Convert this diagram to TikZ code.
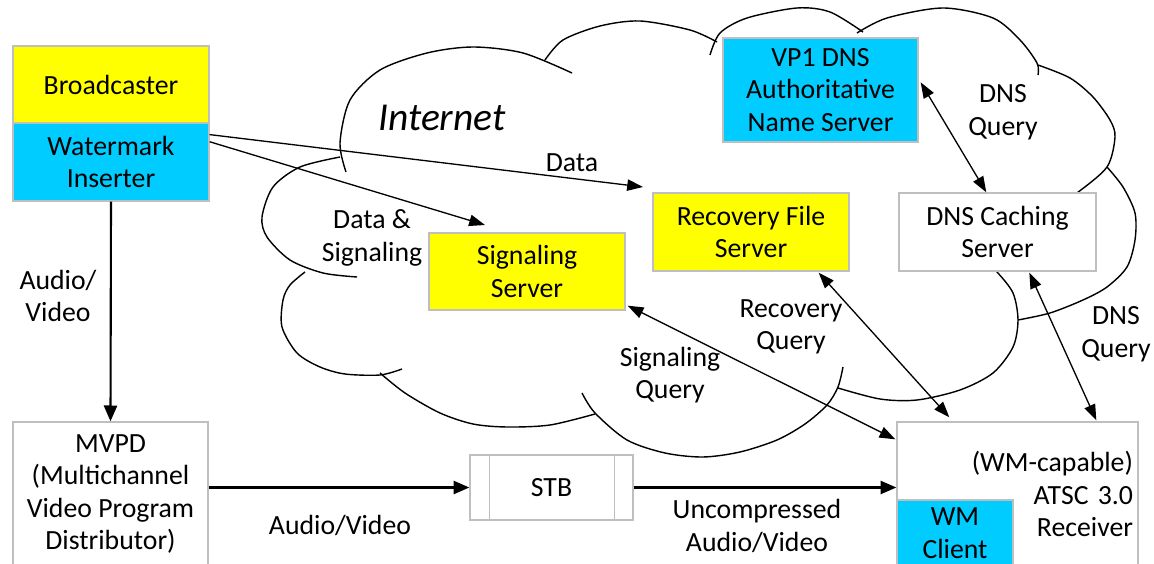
\documentclass[tikz,border=0pt]{standalone}
\usepackage{fontspec}
\setmainfont{Carlito}
\usetikzlibrary{arrows.meta,calc,shadows}
\definecolor{yel}{HTML}{FFFF00}
\definecolor{blu}{HTML}{00CCFF}
\definecolor{bord}{HTML}{BFBFBF}
\begin{document}
\begin{tikzpicture}[x=0.02cm,y=-0.02cm,
  font=\fontsize{15.8}{18.5}\selectfont,
  cloudline/.style={line width=0.8pt},
  box/.style={draw=bord, line width=0.8pt, inner sep=0pt, align=center, minimum width=3.92cm,
    drop shadow={shadow xshift=0.7pt, shadow yshift=-0.7pt, fill=black, opacity=0.12}},
  sarr/.style={line width=0.75pt, -{Triangle[length=9pt,width=6.5pt]}},
  darr/.style={line width=0.75pt, {Triangle[length=9pt,width=6.5pt]}-{Triangle[length=9pt,width=6.5pt]}},
  tarr/.style={line width=1.2pt, -{Triangle[length=9pt,width=7.5pt]}},
  lbl/.style={align=center, inner sep=0pt}]
\useasboundingbox (0,0) rectangle (1154,564);
\clip (0,0) rectangle (1154,564);
\fill[white] (0,0) rectangle (1154,564);

% cloud lobes
\draw[cloudline] plot[smooth] coordinates {(346,172) (340,143) (350,100) (380,70) (427,53) (473,47) (523,53) (572,73)};
\draw[cloudline] plot[smooth] coordinates {(545,60) (563,40) (600,26) (640,21) (690,30) (717,42)};
\draw[cloudline] plot[smooth] coordinates {(710,55) (720,33) (747,18) (797,8) (830,12) (863,32)};
\draw[cloudline] plot[smooth] coordinates {(857,33) (887,18) (943,8) (993,18) (1020,40) (1037,63) (1038,75)};
\draw[cloudline] plot[smooth] coordinates {(1038,65) (1070,78) (1093,97) (1110,120) (1115,137) (1107,167) (1077,193) (1065,200)};
\draw[cloudline] plot[smooth] coordinates {(1107,167) (1123,187) (1135,213) (1135,240) (1127,267) (1107,287) (1083,300) (1050,313) (1018,320)};
\draw[cloudline] plot[smooth] coordinates {(985,262) (997,272) (1013,293) (1018,320) (1013,347) (993,373) (960,390) (917,400) (880,399) (838,388)};
\draw[cloudline] plot[smooth] coordinates {(582,393) (595,413) (627,440) (665,453) (703,457) (740,452) (777,440) (805,424) (827,405) (838,387) (843,367)};
\draw[cloudline] plot[smooth] coordinates {(380,373) (405,393) (440,413) (473,424) (507,427) (550,425) (595,414)};
\draw[cloudline] plot[smooth] coordinates {(305,272) (290,285) (283,300) (282,327) (297,353) (320,367) (345,374) (380,375) (402,369)};
\draw[cloudline] plot[smooth] coordinates {(357,277) (323,273) (290,260) (267,237) (262,217) (273,187) (300,167) (340,157)};

% boxes
\node[box, fill=yel, minimum height=1.54cm] (bc) at (111,84.5) {Broadcaster};
\node[box, fill=blu, minimum height=1.56cm] (wm) at (111,162) {Watermark\\Inserter};
\node[box, fill=blu, minimum width=3.9cm, minimum height=2.08cm] (vp1) at (820.5,90) {VP1 DNS\\Authoritative\\Name Server};
\node[box, fill=white, minimum width=3.94cm, minimum height=1.56cm] (dnsc) at (997.5,232) {DNS Caching\\Server};
\node[box, fill=yel, minimum height=1.56cm] (rfs) at (751,232) {Recovery File\\Server};
\node[box, fill=yel, minimum height=1.54cm] (sig) at (527,271.5) {Signaling\\Server};
\node[box, fill=white, minimum width=3.9cm, minimum height=2.88cm] (mvpd) at (110.5,494) {MVPD\\(Multichannel\\Video Program\\Distributor)};
\node[box, fill=white, minimum width=4.82cm, minimum height=2.88cm, align=right, text width=4.62cm] (rx) at (1017.5,494) {(WM-capable)\\ATSC 3.0\\Receiver};
\node[box, fill=blu, minimum width=2.32cm, minimum height=1.32cm] (wmc) at (955,533) {WM\\Client};
\node[box, fill=white, minimum width=3.26cm, minimum height=1.3cm] (stb) at (551.5,487.5) {STB};
\draw[bord, line width=0.8pt] ($(stb.north west)+(20,0)$) -- ($(stb.south west)+(20,0)$);
\draw[bord, line width=0.8pt] ($(stb.north east)+(-19,0)$) -- ($(stb.south east)+(-19,0)$);

% free ends
\coordinate (dataend) at (643,187);
\coordinate (sigend) at (485,225);

% connectors
\draw[sarr] ($(wm.north east)!0.155!(wm.south east)$) -- (dataend);
\draw[sarr] ($(wm.north east)!0.245!(wm.south east)$) -- (sigend);
\draw[darr] ($(sig.south east)+(2,-5)$) -- ($(rx.north west)+(-1,18)$);
\draw[darr] ($(rfs.south east)+(-31,1)$) -- ($(rx.north west)+(53,-4)$);
\draw[darr] ($(dnsc.south west)+(131,1)$) -- ($(rx.north west)+(200,-1)$);
\draw[darr] ($(vp1.north east)+(2,45)$) -- ($(dnsc.north west)+(88,0)$);
\draw[tarr] (wm.south) -- (mvpd.north);
\draw[tarr] (stb.west -| mvpd.east) -- (stb.west);
\draw[tarr] (stb.east) -- (stb.east -| rx.west);

% labels
\node[lbl, font=\fontsize{22.5}{26}\selectfont\itshape] (inet) at (442,118) {Internet};
\node[lbl] (lav1) at (58,296) {Audio/\\Video};
\node[lbl] (ldata) at (572,163) {Data};
\node[lbl] (lds) at (372,238) {Data \&\\Signaling};
\node[lbl] (lsq) at (670,375) {Signaling\\Query};
\node[lbl] (lrq) at (791,327) {Recovery\\Query};
\node[lbl] (ldq1) at (1003,112) {DNS\\Query};
\node[lbl] (ldq2) at (1116,334) {DNS\\Query};
\node[lbl] (lav2) at (340,525) {Audio/Video};
\node[lbl] (luav) at (757,526) {Uncompressed\\Audio/Video};
\end{tikzpicture}
\end{document}
